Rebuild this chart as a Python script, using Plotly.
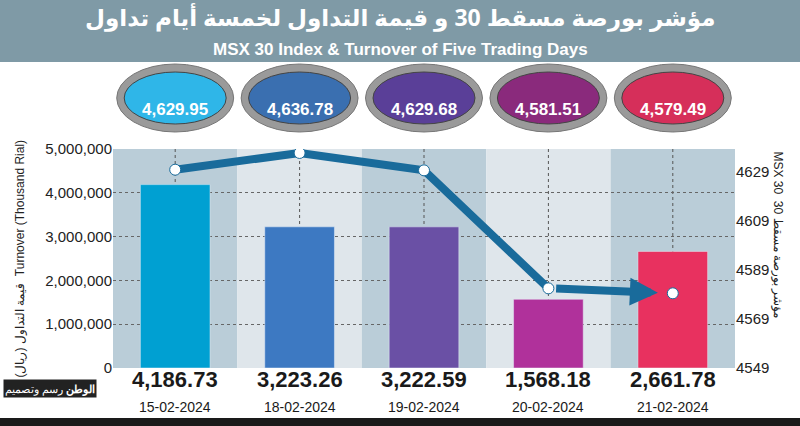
import plotly.graph_objects as go

dates = ["15-02-2024", "18-02-2024", "19-02-2024", "20-02-2024", "21-02-2024"]
turnover_labels = ["4,186.73", "3,223.26", "3,222.59", "1,568.18", "2,661.78"]
turnover = [4186730, 3223260, 3222590, 1568180, 2661780]
index_vals = [4629.95, 4636.78, 4629.68, 4581.51, 4579.49]
index_labels = ["4,629.95", "4,636.78", "4,629.68", "4,581.51", "4,579.49"]
bar_colors = ["#00a0d2", "#3d79c2", "#6a50a5", "#b0319b", "#e8315f"]
oval_colors = ["#2fb6e8", "#3a6fb0", "#5a3f98", "#8a2a7c", "#d62f5a"]
left_ticks = [0, 1000000, 2000000, 3000000, 4000000, 5000000]
right_ticks = [4549, 4569, 4589, 4609, 4629]

H = 219.0
x = list(range(len(dates)))
fig = go.Figure()
fig.add_trace(go.Bar(x=x, y=turnover, marker_color=bar_colors, width=0.56, showlegend=False))
fig.add_trace(go.Scatter(x=x[:4], y=index_vals[:4], yaxis="y2", mode="lines",
                         line=dict(color="#196b9b", width=8), showlegend=False))
fig.add_trace(go.Scatter(x=x, y=index_vals, yaxis="y2", mode="markers",
                         marker=dict(color="white", size=11, line=dict(color="#196b9b", width=1)),
                         showlegend=False))

shapes = []
for i in x:
    shapes.append(dict(type="rect", xref="x", yref="paper", x0=i-0.5, x1=i+0.5, y0=0, y1=1,
                       fillcolor="#bacdd8" if i % 2 == 0 else "#dfe6eb", line_width=0, layer="below"))
    shapes.append(dict(type="line", xref="x", yref="paper", x0=i, x1=i, y0=0, y1=1,
                       line=dict(color="#555", width=1, dash="dot"), layer="below"))
shapes.append(dict(type="rect", xref="paper", yref="paper", x0=-0.2, x1=1.2,
                   y0=(368-62)/H, y1=2.0, fillcolor="#7f9aa6", line_width=0, layer="below"))
shapes.append(dict(type="rect", xref="paper", yref="paper", x0=-0.2, x1=1.2,
                   y0=-58/H, y1=-50/H, fillcolor="#1a1a1a", line_width=0))
ann = []
ann.append(dict(text="<b>مؤشر بورصة مسقط 30 و قيمة التداول لخمسة أيام تداول</b>", xref="paper", yref="paper",
                x=(400-113)/622, y=(368+1)/H, showarrow=False,
                font=dict(size=23, color="white", family="Noto Sans, DejaVu Sans")))
ann.append(dict(text="<b>MSX 30 Index & Turnover of Five Trading Days</b>", xref="paper", yref="paper",
                x=(400-113)/622, y=(368-38)/H, showarrow=False,
                font=dict(size=17, color="white", family="Liberation Sans")))
for i in x:
    cy = (368-98)/H
    shapes.append(dict(type="circle", xref="x", yref="paper", x0=i-0.47, x1=i+0.47,
                       y0=cy-34/H, y1=cy+34/H, fillcolor="#9a9a9a", line=dict(color="#777", width=1)))
    shapes.append(dict(type="circle", xref="x", yref="paper", x0=i-0.41, x1=i+0.41,
                       y0=cy-26/H, y1=cy+26/H, fillcolor=oval_colors[i], line=dict(color="#444", width=1)))
    ann.append(dict(text=f"<b>{index_labels[i]}</b>", x=i, xref="x", yref="paper", y=cy, showarrow=False,
                    font=dict(size=17, color="white", family="Liberation Sans Narrow, Liberation Sans")))
    ann.append(dict(text=f"<b>{turnover_labels[i]}</b>", x=i, xref="x", yref="paper", y=-26/H,
                    showarrow=False, font=dict(size=22, color="#1a1a1a", family="Liberation Sans Narrow, Liberation Sans")))
    ann.append(dict(text=dates[i], x=i, xref="x", yref="paper", y=-49/H,
                    showarrow=False, font=dict(size=14, color="#1a1a1a", family="Liberation Sans Narrow, Liberation Sans")))
ann.append(dict(x=x[4]-0.12, y=index_vals[4]+0.2, ax=x[3]+0.05, ay=index_vals[3], xref="x", yref="y2",
                axref="x", ayref="y2", showarrow=True, arrowhead=2, arrowsize=0.7, arrowwidth=8,
                arrowcolor="#196b9b", text=""))
ann.append(dict(text="قيمة التداول (ريال)  Turnover (Thousand Rial)", xref="paper", yref="paper",
                x=-103/622, y=0.5, textangle=-90, showarrow=False,
                font=dict(size=12, color="#222", family="Liberation Sans Narrow, Liberation Sans")))
ann.append(dict(text="MSX 30  مؤشر بورصة مسقط 30", xref="paper", yref="paper",
                x=1+52/622, y=1.0, yanchor="top", textangle=90, showarrow=False,
                font=dict(size=12, color="#222", family="Liberation Sans Narrow, Liberation Sans")))
ann.append(dict(text="<b>الوطن</b> رسم وتصميم", xref="paper", yref="paper", x=-110/622, y=-30/H,
                xanchor="left", showarrow=False, bgcolor="#222", font=dict(size=11, color="white")))

fig.update_layout(
    width=800, height=426, margin=dict(l=113, r=65, t=149, b=58),
    paper_bgcolor="white", plot_bgcolor="rgba(0,0,0,0)",
    shapes=shapes, annotations=ann,
    xaxis=dict(range=[-0.5, 4.5], showticklabels=False, showgrid=False, zeroline=False, automargin=False),
    yaxis=dict(range=[0, 5000000], tickvals=left_ticks, tickformat=",d", showgrid=True, automargin=False,
               gridcolor="#666", griddash="dot", zeroline=False,
               tickfont=dict(size=15, color="#222", family="Liberation Sans Narrow, Liberation Sans")),
    yaxis2=dict(range=[4549, 4638.4], overlaying="y", side="right", tickvals=right_ticks,
                showgrid=False, zeroline=False, automargin=False,
                tickfont=dict(size=15, color="#222", family="Liberation Sans Narrow, Liberation Sans")),
)
fig.write_html("out.html", config={"displayModeBar": False},
               post_script="document.body.style.margin='0';document.body.style.overflow='hidden';")
